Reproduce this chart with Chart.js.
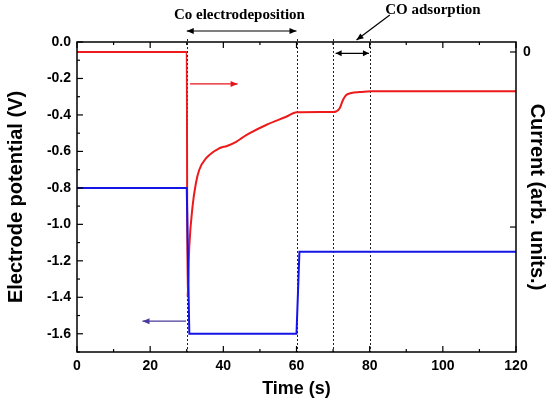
<!DOCTYPE html>
<html>
<head>
<meta charset="utf-8">
<script src="https://cdn.jsdelivr.net/npm/chart.js@4.4.1/dist/chart.umd.min.js"></script>
<style>
html,body{margin:0;padding:0;background:#fff;}
#wrap{width:552px;height:405px;position:relative;}
</style>
</head>
<body>
<div id="wrap"><canvas id="c" width="552" height="405"></canvas></div>
<script>
// ---- data ----
const timeBlue = [0, 30, 30.7, 60, 60.8, 120];
const potential = [-0.8, -0.8, -1.6, -1.6, -1.15, -1.15];

const timeRed = [0, 30, 30.2, 30.7, 31.6, 32.5, 33.4, 35.3, 38.9, 41.0, 43.5, 45.3, 47.1, 51.7, 57.2, 60.0, 70.0, 70.8, 71.8, 72.7, 73.6, 75.0, 77.3, 80.5, 120];
const current = [0, 0, -1.40, -1.11, -0.88, -0.75, -0.674, -0.607, -0.55, -0.537, -0.513, -0.488, -0.465, -0.417, -0.37, -0.345, -0.343, -0.34, -0.322, -0.274, -0.246, -0.234, -0.229, -0.225, -0.225];

const xTicks = [0, 20, 40, 60, 80, 100, 120];
const yTicks = [0, -0.2, -0.4, -0.6, -0.8, -1.0, -1.2, -1.4, -1.6];
const y1Ticks = [0, -1];
const markerTimes = [30, 60, 70, 80];

const labelCo = 'Co electrodeposition';
const labelCO = 'CO adsorption';

// ---- build ----
const blueData = timeBlue.map((t, i) => ({x: t, y: potential[i]}));
const redData = timeRed.map((t, i) => ({x: t, y: current[i]}));

function arrow(ctx, x1, y1, x2, y2, color, headEnd, headStart, hl, hw) {
  hl = hl || 7; hw = hw || 3;
  ctx.save();
  ctx.strokeStyle = color; ctx.fillStyle = color; ctx.lineWidth = 1.2;
  ctx.beginPath(); ctx.moveTo(x1, y1); ctx.lineTo(x2, y2); ctx.stroke();
  const head = (xa, ya, xb, yb) => {
    const a = Math.atan2(yb - ya, xb - xa);
    ctx.beginPath();
    ctx.moveTo(xb, yb);
    ctx.lineTo(xb - hl * Math.cos(a) + hw * Math.sin(a), yb - hl * Math.sin(a) - hw * Math.cos(a));
    ctx.lineTo(xb - hl * Math.cos(a) - hw * Math.sin(a), yb - hl * Math.sin(a) + hw * Math.cos(a));
    ctx.closePath(); ctx.fill();
  };
  if (headEnd) head(x1, y1, x2, y2);
  if (headStart) head(x2, y2, x1, y1);
  ctx.restore();
}

const decor = {
  id: 'decor',
  beforeDatasetsDraw(chart) {
    const {ctx, chartArea: a, scales: {x}} = chart;
    ctx.save();
    ctx.strokeStyle = '#222';
    ctx.lineWidth = 1;
    ctx.setLineDash([2, 2]);
    markerTimes.forEach(t => {
      const px = Math.round(x.getPixelForValue(t)) + 0.5;
      ctx.beginPath(); ctx.moveTo(px, a.top - 3); ctx.lineTo(px, a.bottom); ctx.stroke();
    });
    ctx.restore();
  },
  afterDraw(chart) {
    const {ctx, chartArea: a, scales: {x, y, y1}} = chart;
    ctx.save();
    ctx.strokeStyle = '#000';
    ctx.lineWidth = 1.5;
    ctx.strokeRect(a.left, a.top, a.right - a.left, a.bottom - a.top);
    ctx.lineWidth = 1.2;
    for (let v = 0; v <= 120; v += 10) {
      const px = x.getPixelForValue(v);
      const len = v % 20 === 0 ? 6 : 3;
      ctx.beginPath();
      ctx.moveTo(px, a.bottom); ctx.lineTo(px, a.bottom - len);
      ctx.moveTo(px, a.top); ctx.lineTo(px, a.top + len);
      ctx.stroke();
    }
    for (let k = 0; k <= 17; k++) {
      const v = -k / 10;
      const py = y.getPixelForValue(v);
      const len = k % 2 === 0 ? 6 : 3;
      ctx.beginPath(); ctx.moveTo(a.left, py); ctx.lineTo(a.left + len, py); ctx.stroke();
    }
    y1Ticks.forEach(v => {
      const py = y1.getPixelForValue(v);
      ctx.beginPath(); ctx.moveTo(a.right, py); ctx.lineTo(a.right - 6, py); ctx.stroke();
    });
    ctx.restore();

    const p30 = x.getPixelForValue(30), p60 = x.getPixelForValue(60);
    arrow(ctx, p30, 31, p60, 31, '#000', true, true, 7, 3);
    arrow(ctx, x.getPixelForValue(70.7), y.getPixelForValue(-0.062), x.getPixelForValue(79.8), y.getPixelForValue(-0.062), '#000', true, true, 6, 3);
    arrow(ctx, x.getPixelForValue(85.5), a.top - 27, x.getPixelForValue(76.4), a.top - 2, '#000', true, false, 7, 3);
    arrow(ctx, x.getPixelForValue(30.9), y.getPixelForValue(-0.23), x.getPixelForValue(43.9), y.getPixelForValue(-0.23), '#e8141a', true, false, 7, 3);
    arrow(ctx, x.getPixelForValue(29.8), y.getPixelForValue(-1.531), x.getPixelForValue(17.9), y.getPixelForValue(-1.531), '#4a3c9c', true, false, 7, 3);

    ctx.save();
    ctx.fillStyle = '#000';
    ctx.font = 'bold 15px "Liberation Serif", "Times New Roman", serif';
    ctx.textAlign = 'center';
    ctx.textBaseline = 'middle';
    ctx.fillText(labelCo, x.getPixelForValue(44.4), 15);
    ctx.fillText(labelCO, x.getPixelForValue(97.3), 10);
    ctx.restore();
  }
};

const tickFont = {family: '"Liberation Sans", Arial, sans-serif', size: 14, weight: 'bold'};
const xTitleFont = {family: '"Liberation Sans", Arial, sans-serif', size: 18, weight: 'bold'};
const yTitleFont = {family: '"Liberation Sans", Arial, sans-serif', size: 20, weight: 'bold'};

new Chart(document.getElementById('c'), {
  type: 'line',
  data: {
    datasets: [
      {label: 'Electrode potential', data: blueData, yAxisID: 'y', borderColor: '#1414e6', borderWidth: 2, pointRadius: 0, tension: 0, fill: false},
      {label: 'Current', data: redData, yAxisID: 'y1', borderColor: '#ec1a1a', borderWidth: 2, pointRadius: 0, cubicInterpolationMode: 'monotone', fill: false}
    ]
  },
  options: {
    responsive: false,
    animation: false,
    layout: {padding: {top: 42, left: 0, right: 0, bottom: 0}},
    plugins: {legend: {display: false}, tooltip: {enabled: false}},
    scales: {
      x: {
        type: 'linear', min: 0, max: 120,
        afterFit(s) { s.height = 53; },
        afterBuildTicks(s) { s.ticks = xTicks.map(v => ({value: v})); },
        grid: {display: false, drawTicks: false},
        border: {display: false},
        ticks: {color: '#000', font: tickFont, padding: 6, maxRotation: 0, autoSkip: false},
        title: {display: true, text: 'Time (s)', color: '#000', font: xTitleFont, padding: {top: 0, bottom: 5}}
      },
      y: {
        type: 'linear', position: 'left', min: -1.7, max: 0,
        afterFit(s) { s.width = 77; },
        afterBuildTicks(s) { s.ticks = yTicks.map(v => ({value: v})); },
        grid: {display: false, drawTicks: false},
        border: {display: false},
        ticks: {color: '#000', font: tickFont, padding: 6, autoSkip: false,
          callback: v => (Math.abs(v) < 1e-9 ? '0.0' : Number(v).toFixed(1))},
        title: {display: true, text: 'Electrode potential (V)', color: '#000', font: yTitleFont, padding: {top: 4, bottom: 0}}
      },
      y1: {
        type: 'linear', position: 'right', min: -1.714, max: 0.057,
        afterFit(s) { s.width = 36; },
        afterBuildTicks(s) { s.ticks = y1Ticks.map(v => ({value: v})); },
        grid: {display: false, drawTicks: false},
        border: {display: false},
        ticks: {color: '#000', font: tickFont, padding: 7, autoSkip: false,
          callback: v => (Math.abs(v) < 1e-9 ? '0' : '')},
        title: {display: true, text: 'Current (arb. units.)', color: '#000', font: yTitleFont, padding: {top: 3, bottom: 0}}
      }
    }
  },
  plugins: [decor]
});
</script>
</body>
</html>
